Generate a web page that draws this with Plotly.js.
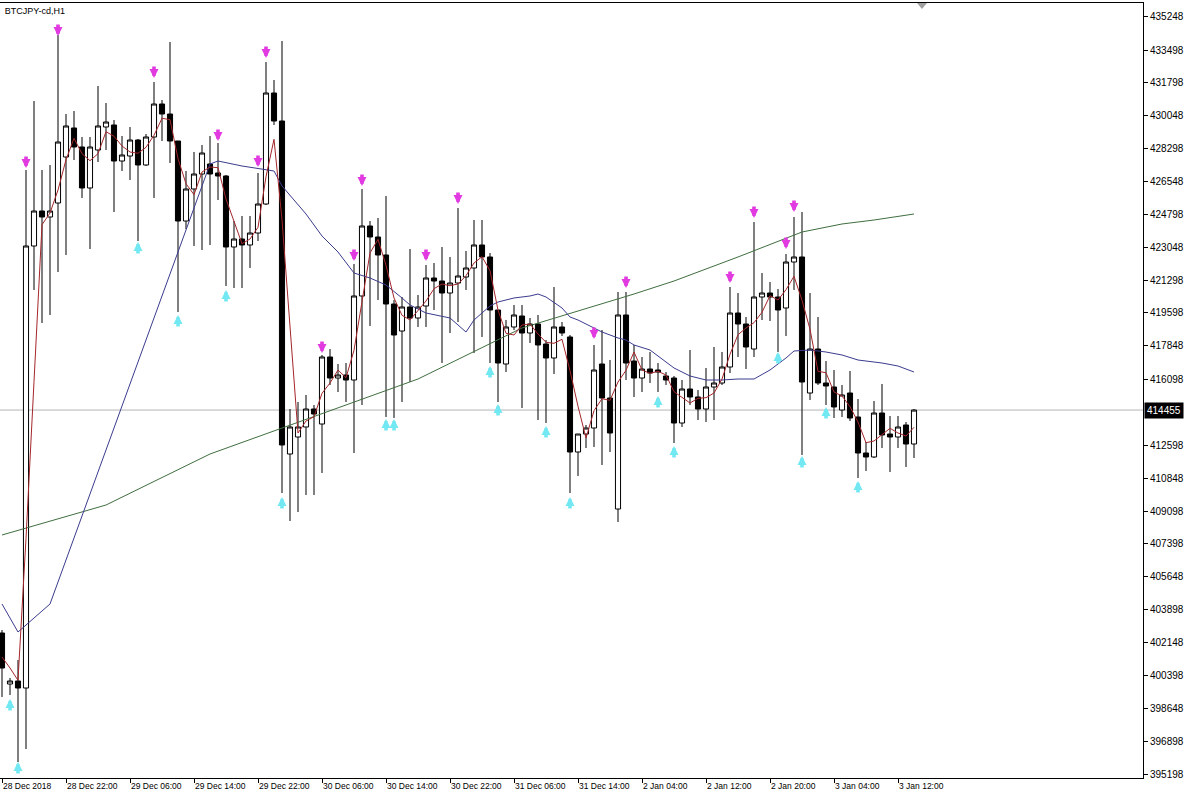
<!DOCTYPE html>
<html><head><meta charset="utf-8">
<script src="https://cdn.plot.ly/plotly-3.0.1.min.js"></script>
<style>html,body{margin:0;padding:0;background:#fff;} #chart{width:1200px;height:800px;}</style>
</head><body><div id="chart"></div>
<script>
// ---- data (BTCJPY-cd, H1) ----
const symbolTitle = 'BTCJPY-cd,H1';
const openP = [402661,399963,400122,399752,423134,424985,424668,425408,427842,429376,
428371,426202,428212,429429,429535,427630,427895,428741,427419,428900,
430645,430116,428688,424456,426149,426942,427471,426995,426837,423081,
423504,423187,423821,425355,431227,429746,412130,413030,413559,414511,
413717,417262,416151,416310,416045,420489,424192,423610,422658,420065,
418637,419907,419325,419960,421441,421282,420647,421176,421494,421970,
423187,422552,419748,416891,418849,419431,418531,419007,417949,417209,
418849,418320,412236,413188,413506,416891,415093,409221,419484,417050,
416151,416627,416574,416257,416151,413770,415569,415146,414511,415675,
415886,416733,419589,419007,417685,420436,420647,420436,419854,422287,
422552,415357,417685,415886,415675,414458,415357,414088,412183,411972,
414299,413188,413030,413665,412659];
const highP = [402820,400281,401233,427154,430804,427154,427419,434296,430116,430275,
428900,428900,431598,430698,429799,428953,429429,428794,429058,431809,
430857,433925,428688,427101,428106,428477,428953,428582,426890,424456,
424721,424721,426995,432867,431915,433978,414511,414881,415252,414723,
417368,417685,416891,416944,422181,426149,424456,424615,425779,420277,
420436,422975,420542,422129,422234,423081,422552,425144,422869,424509,
424509,422763,419748,419219,420013,420013,419325,419484,418161,420965,
419113,418426,413188,413665,417897,418690,417103,420700,420700,417897,
417262,417526,416944,416468,416257,416045,417632,415516,416680,417791,
417526,420965,420647,419378,424403,421705,421229,420859,422710,424668,
424932,420647,419378,417050,416574,415781,416521,415040,412765,414934,
415833,414141,414141,413823,414511];
const lowP = [399277,399382,395837,396525,420806,419060,419484,421758,422658,427683,
425673,422975,427577,428212,424932,427101,426625,423398,427366,425673,
428688,427524,419642,424033,423134,422922,423187,425567,421018,420912,
420912,421970,423398,425303,429535,410067,408586,409062,409962,409962,
411125,415781,415410,414881,412183,414723,418902,420277,414088,414035,
414881,415939,418849,418849,419748,416944,418531,419113,420806,417473,
418320,416944,414881,416468,418690,414564,418002,413929,413770,416362,
418373,410067,410967,412448,412501,411549,412236,408533,416045,415146,
415410,415886,415410,415781,412712,413559,414723,413929,413823,413929,
415781,416415,417262,416627,417262,419219,419166,417526,418373,420806,
412078,414987,415781,414723,414035,414088,413876,410861,411231,411919,
412448,411178,412448,411443,411919];
const closeP = [400809,400122,399752,423134,424985,424668,424985,428635,429482,428371,
426202,428371,429482,429693,427630,427948,428741,427419,428900,430645,
430116,428688,424456,426149,426942,428053,426942,426837,423081,423504,
423187,423821,425355,431227,429746,412607,413559,413559,414511,414246,
417262,416151,416310,416045,420489,424192,423610,422658,420065,418426,
419907,419325,419907,421441,421282,420647,421176,421547,421970,423187,
422552,419748,416944,418849,419484,418531,419007,417897,417209,418849,
418531,412236,413188,413506,416574,415093,413241,419484,416944,416151,
416627,416415,416468,416045,413770,415569,415146,414511,415675,415886,
416733,419589,419007,417791,420436,420647,420436,419748,422287,422552,
415939,417685,415886,415728,414617,415252,414035,412183,411972,414299,
413136,413030,413559,412659,414455];

// fast moving average (red), one value per bar
const maFast = [401392,400810,400159,407671,415955,424260,424879,426096,427699,428831,
428016,427646,428016,429180,428937,428424,428106,428037,428355,428990,
429889,429815,427752,426429,425847,427048,427313,427276,425620,424472,
423255,423504,424123,426800,428778,424525,418637,413241,413876,414104,
415341,415886,416574,416167,417616,420240,422763,423488,422113,420383,
419468,419219,419711,420224,420875,421123,421034,421123,421563,422234,
422568,421827,419748,418515,418426,418955,419007,418478,418039,417986,
418198,416537,414654,412977,414421,415056,414971,415939,416558,417526,
416574,416399,416505,416310,415426,415130,414828,415077,415109,415357,
416098,417405,418441,418796,419076,419626,420505,420277,420822,421531,
420261,418727,416505,416431,415410,415199,414633,413823,412728,412818,
413136,413490,413241,413083,413543];

// middle moving average (blue), read at these bars
const maMidBar = [0,2,6,13,26,27,30,34,35,38,40,42,44,46,48,50,51,53,56,58,59,61,62,64,66,67,68,70,71,72,74,75,77,78,79,81,84,86,88,90,92,94,96,98,99,101,103,105,107,110,112,114];
const maMidVal = [404195,402714,404195,412342,427471,427630,427366,427101,426308,424826,
423663,422816,421705,421441,421071,420383,420013,419589,419325,418584,
419219,419960,420171,420383,420489,420594,420436,419854,419378,419219,
418796,418584,418267,418161,417897,417632,416680,416257,416045,416045,
416098,416098,416574,417209,417579,417632,417526,417368,417103,416944,
416785,416468];

// slow moving average (green), read at these bars
const maSlowBar = [0,13,26,40,52,65,79,84,92,100,105,109,114];
const maSlowVal = [407846,409432,412130,414246,416098,418796,420594,421282,422552,423874,424298,424509,424826];

// signal arrows
const sellBar = [3,7,19,27,32,33,40,44,45,53,57,74,78,91,94,98,99];
const sellVal = [427577,434560,432338,429006,427630,433396,417791,422658,426625,422658,425673,418531,421229,421494,424932,423293,425250];
const buyBar = [1,2,17,22,28,35,48,49,61,62,68,71,82,84,97,100,103,107];
const buyVal = [398852,395520,423028,419166,420489,409538,413665,413665,416468,414458,413294,409538,414881,412236,417209,411707,414299,410385];

// axes
const xTickBar = [0,8,16,24,32,40,48,56,64,72,80,88,96,104,112];
const xTickText = ['28 Dec 2018','28 Dec 22:00','29 Dec 06:00','29 Dec 14:00','29 Dec 22:00','30 Dec 06:00','30 Dec 14:00','30 Dec 22:00','31 Dec 06:00','31 Dec 14:00','2 Jan 04:00','2 Jan 12:00','2 Jan 20:00','3 Jan 04:00','3 Jan 12:00'];
const yTickVals = [435248,433498,431798,430048,428298,426548,424798,423048,421298,419598,417848,416098,412598,410848,409098,407398,405648,403898,402148,400398,398648,396898,395198];
const lastPrice = 414455;

// ---- drawing ----
const bars = openP.map((_, i) => i);
const FONT = 'Liberation Sans, Arial, sans-serif';

const traces = [
  {
    type: 'candlestick', x: bars, open: openP, high: highP, low: lowP, close: closeP,
    increasing: {line: {color: '#000000', width: 1}, fillcolor: '#ffffff'},
    decreasing: {line: {color: '#000000', width: 1}, fillcolor: '#000000'},
    whiskerwidth: 0, hoverinfo: 'skip', showlegend: false
  },
  {type: 'scatter', mode: 'lines', x: maSlowBar, y: maSlowVal, line: {color: '#3f6e3f', width: 1}, hoverinfo: 'skip'},
  {type: 'scatter', mode: 'lines', x: maMidBar, y: maMidVal, line: {color: '#3b3b8f', width: 1}, hoverinfo: 'skip'},
  {type: 'scatter', mode: 'lines', x: bars, y: maFast, line: {color: '#a3262b', width: 1}, hoverinfo: 'skip'}
];

const arrowAnn = (b, v, down) => ({
  x: b, y: v, xref: 'x', yref: 'y', text: '', showarrow: true,
  arrowhead: 2, arrowsize: 0.5, arrowwidth: 3.6,
  arrowcolor: down ? '#e03ae0' : '#72e8f2',
  ax: 0, ay: down ? -13 : 13, yshift: down ? -6 : 6
});

const annotations = [
  ...sellBar.map((b, i) => arrowAnn(b, sellVal[i], true)),
  ...buyBar.map((b, i) => arrowAnn(b, buyVal[i], false)),
  {x: 1, xref: 'paper', xanchor: 'left', y: lastPrice, yref: 'y', yanchor: 'middle',
   text: String(lastPrice), showarrow: false, bgcolor: '#000000', borderpad: 2,
   font: {family: FONT, size: 10, color: '#ffffff'}, xshift: 1}
];

const layout = {
  width: 1200, height: 800,
  margin: {l: 0, r: 57, t: 3, b: 22, pad: 0},
  paper_bgcolor: '#ffffff', plot_bgcolor: '#ffffff',
  showlegend: false, hovermode: false,
  boxgap: 0.36, boxgroupgap: 0,
  title: {text: symbolTitle, x: 0.004, xanchor: 'left', y: 0.986, yanchor: 'middle',
          font: {family: FONT, size: 9, color: '#000000'}},
  xaxis: {
    range: [-0.25, 142.625], tickvals: xTickBar, ticktext: xTickText,
    ticks: 'outside', ticklen: 4, tickcolor: '#000000', tickwidth: 1,
    ticklabelposition: 'outside right',
    showgrid: false, zeroline: false, showline: true, mirror: true,
    linecolor: '#000000', linewidth: 1,
    tickfont: {family: FONT, size: 8.5, color: '#000000'},
    rangeslider: {visible: false}, fixedrange: true
  },
  yaxis: {
    side: 'right', range: [394991, 435988], tickvals: yTickVals,
    ticktext: yTickVals.map(String),
    ticks: 'outside', ticklen: 4, tickcolor: '#000000', tickwidth: 1,
    showgrid: false, zeroline: false, showline: true, mirror: true,
    linecolor: '#000000', linewidth: 1,
    tickfont: {family: FONT, size: 10, color: '#000000'}, fixedrange: true
  },
  shapes: [
    {type: 'line', xref: 'paper', x0: 0, x1: 1, yref: 'y', y0: lastPrice, y1: lastPrice,
     line: {color: '#b4b4b4', width: 1}, layer: 'below'},
    {type: 'path', xref: 'paper', yref: 'paper',
     path: 'M0.8023,1 L0.8110,1 L0.8066,0.9923 Z', fillcolor: '#a0a0a0', line: {width: 0}}
  ],
  annotations: annotations
};

Plotly.newPlot('chart', traces, layout, {staticPlot: true, displayModeBar: false});
</script>
</body></html>
